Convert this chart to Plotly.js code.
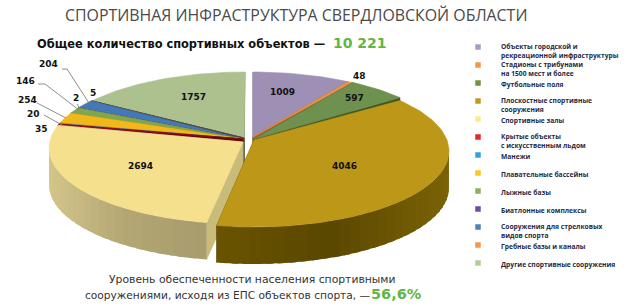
<!DOCTYPE html>
<html><head><meta charset="utf-8">
<script src="https://cdn.plot.ly/plotly-3.0.1.min.js"></script>
<style>html,body{margin:0;padding:0;background:#fff}#c{width:642px;height:307px}</style>
</head><body><div id="c"></div>
<script>
const categories = ["Объекты городской и<br>рекреационной инфраструктуры","Стадионы с трибунами<br>на 1500 мест и более","Футбольные поля","Плоскостные спортивные<br>сооружения","Спортивные залы","Крытые объекты<br>с искусственным льдом","Манежи","Плавательные бассейны","Лыжные базы","Биатлонные комплексы","Сооружения для стрелковых<br>видов спорта","Гребные базы и каналы","Другие спортивные сооружения"];
const values = [1009,48,597,4046,2694,35,20,254,146,2,204,5,1757];
const legendColors = ["#A99BC5","#F79646","#77933C","#C09B1A","#FBE88F","#E5282A","#2EA3DC","#FFC61E","#8CB15C","#6B4F9E","#4F81BD","#F79646","#B5CC96"];
const topColors = ["#9E8FB5","#E8914F","#6E9150","#BC9718","#F5E08E","#8E0F14","#8C9AA5","#F0B818","#7FA650","#5F4B8B","#4678B8","#5D5040","#ADC18F"];
const faceColors = ["#6F6480","#A8622F","#3F5A25","#5F4B00","#C9BB7A","#5E0A0D","#5E6870","#A07C10","#55703A","#403060","#2F5480","#403828","#7A8A62"];
// Geometry of the tilted pie, in page pixels
const cx=253, cy=148, rx=195, ry=76, depth=37;
const outlineOffset = [[0,0],[0,0],[1,0],[1,3],[-9,0],[-9,0],[-9,0],[-9,0],[-9,0],[-9,0],[-9,0],[-8,0],[-8,0]];
const apexOffset = [[0,-11],[0,-11],[1,-9],[1,-8],[-10,-6],[-10,-9],[-10,-9],[-10,-9],[-10,-9],[-10,-9],[-10,-9],[-9,-10],[-9,-10]];
const drawOrder = [12,11,10,9,8,7,6,5,4,0,1,2,3];

const total = values.reduce((a,b)=>a+b,0);
const rad = d=>d*Math.PI/180;
const warp = th => th-0.14*Math.sin(th);   // perspective compression toward the back
let acc=0;
const slices = values.map((v,i)=>{const a0=acc/total*2*Math.PI; acc+=v; const a1=acc/total*2*Math.PI; return {i,a0,a1};});
const outer=(s,th)=>{const t=warp(th),o=outlineOffset[s.i];return [cx+o[0]+rx*Math.sin(t),cy+o[1]-ry*Math.cos(t)];};
const apex=s=>{const a=apexOffset[s.i];return [cx+a[0],cy+a[1]];};
const poly=(pts,color,w)=>({type:'scatter',mode:'lines',x:pts.map(p=>p[0]),y:pts.map(p=>p[1]),fill:'toself',fillcolor:color,line:{color:color,width:w===undefined?0.6:w},hoverinfo:'skip',showlegend:false});
const hex=c=>[1,3,5].map(k=>parseInt(c.substr(k,2),16));
const mix=(a,b,f)=>{const A=hex(a),B=hex(b);return 'rgb('+A.map((v,k)=>Math.round(v+(B[k]-v)*f)).join(',')+')';};
const wallRamp={3:["#7A6205","#5A4700","#6A5400"],4:["#D4C68A","#B3A674","#A89C6C"]};
const wallColor=(i,frac)=>{const r=wallRamp[i];return frac<0.5?mix(r[0],r[1],frac*2):mix(r[1],r[2],(frac-0.5)*2);};

const traces=[];
drawOrder.forEach(i=>{
  const s=slices[i], A=apex(s), p0=outer(s,s.a0), p1=outer(s,s.a1);
  // radial side faces
  traces.push(poly([A,p0,[p0[0],p0[1]+depth],[A[0],A[1]+depth],A],faceColors[i]));
  traces.push(poly([A,p1,[p1[0],p1[1]+depth],[A[0],A[1]+depth],A],faceColors[i]));
  // outer wall, front half only; strips overlap so that no seams show
  if(wallRamp[i]){
    const step=rad(3);
    for(let th=s.a0;th<s.a1;th+=step){
      const e=Math.min(th+step*1.6,s.a1), q0=outer(s,th), q1=outer(s,e);
      if(Math.cos(warp(th))>0.02 && Math.cos(warp(e))>0.02) continue;
      const frac=i===3?(q0[0]-220)/(449-220):(q0[0]-49)/(212-49);
      const f=Math.max(0,Math.min(1,i===3?1-frac:frac));
      traces.push(poly([q0,q1,[q1[0],q1[1]+depth],[q0[0],q0[1]+depth],q0],wallColor(i,f),0));
    }
  }
  // top face
  const pts=[A]; const n=Math.max(3,Math.ceil((s.a1-s.a0)/rad(2)));
  for(let k=0;k<=n;k++) pts.push(outer(s,s.a0+(s.a1-s.a0)*k/n));
  pts.push(A);
  traces.push(poly(pts,topColors[i]));
});

// Legend
const legendX=478, legendTextX=500, legendTop=47, legendStep=18;
const legendY=categories.map((_,k)=>legendTop+k*legendStep);
traces.push({type:'scatter',mode:'markers',x:categories.map(()=>legendX),y:legendY,marker:{symbol:'square',size:5.5,color:legendColors,line:{width:0}},hoverinfo:'skip',showlegend:false});

const ann=[];
const T=(x,y,text,size,color,anchor,family)=>ann.push({x,y,xref:'x',yref:'y',text,showarrow:false,xanchor:anchor||'center',yanchor:'middle',align:anchor||'center',font:{size,color,family},borderpad:0});
const sans='"Open Sans",sans-serif', dv='"DejaVu Sans",sans-serif';
T(296,15,"СПОРТИВНАЯ ИНФРАСТРУКТУРА СВЕРДЛОВСКОЙ ОБЛАСТИ",15.9,"#4A4A4A",'center',sans);
T(36,44,"<b>Общее количество спортивных объектов —</b>",11.4,"#111111",'left',dv);
T(332,43,"<b>10 221</b>",14,"#5FB648",'left',dv);
T(252,279,"Уровень обеспеченности населения спортивными",10.8,"#333333",'center',dv);
T(84,295,"сооружениями, исходя из ЕПС объектов спорта, —",10.6,"#333333",'left',dv);
T(370,294,"<b>56,6%</b>",14.5,"#5FB648",'left',dv);
categories.forEach((c,k)=>{
  T(legendTextX,legendY[k]+(c.includes('<br>')?4:1),"<b>"+c+"</b>",6.7,"#1F2A44",'left',sans);
});
// Value labels
const labelX=[282,359,354,344,140,41,33,27,25,76,48,93,193];
const labelY=[92,76,98,166,166,129,114,100,81,98,64,93,97];
values.forEach((v,k)=>T(labelX[k],labelY[k],"<b>"+v+"</b>",9,"#111111",'center',dv));
// Leader lines
const leaders=[[[62,69],[67,69],[89,103]],[[38,84],[45,84],[79,110]],[[37,103],[66,118]],[[44,115],[62,125]],[[77,104],[80,109]]];
const shapes=[];
leaders.forEach(L=>{for(let k=0;k<L.length-1;k++)shapes.push({type:'line',xref:'x',yref:'y',x0:L[k][0],y0:L[k][1],x1:L[k+1][0],y1:L[k+1][1],line:{color:'#808080',width:0.9}});});

Plotly.newPlot('c',traces,{
  width:642,height:307,margin:{l:0,r:0,t:0,b:0},paper_bgcolor:'#fff',plot_bgcolor:'#fff',showlegend:false,
  xaxis:{range:[0,642],visible:false,fixedrange:true},
  yaxis:{range:[307,0],visible:false,fixedrange:true},
  annotations:ann,shapes:shapes,hovermode:false
},{staticPlot:true,displayModeBar:false});
</script></body></html>
